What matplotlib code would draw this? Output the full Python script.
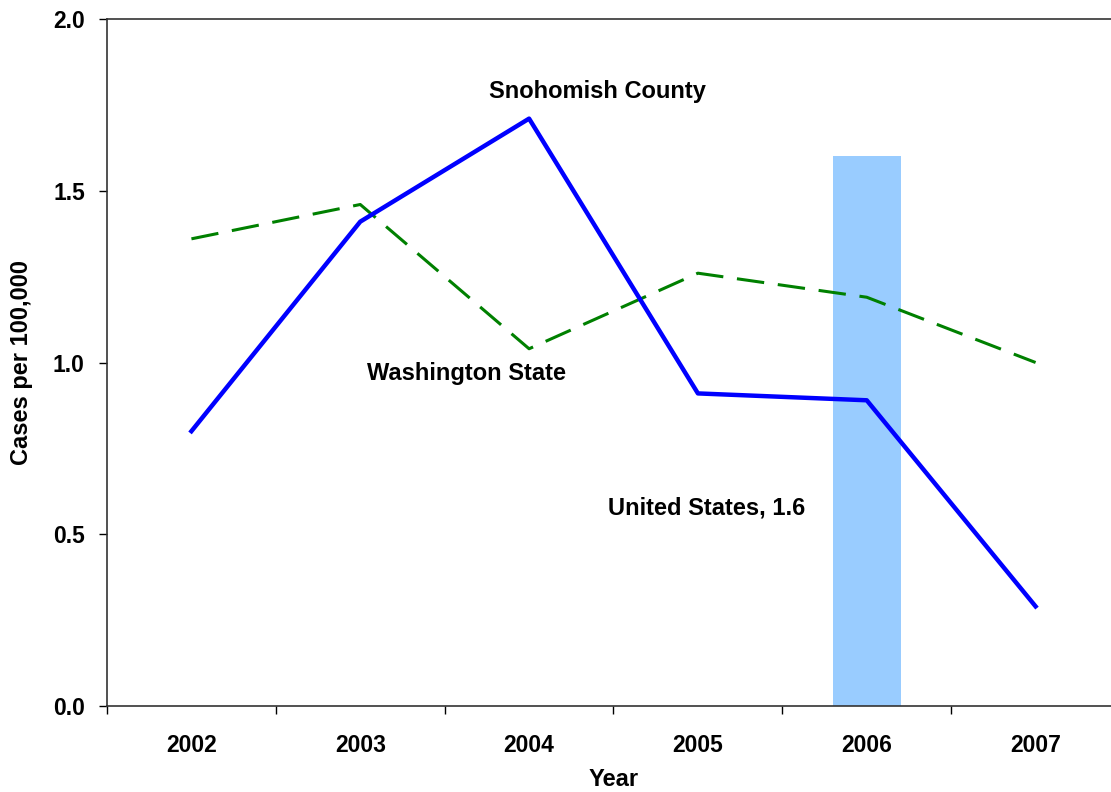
import matplotlib
matplotlib.use('Agg')
import matplotlib.pyplot as plt
import numpy as np

plt.rcParams['font.family'] = ['Liberation Sans', 'DejaVu Sans']

years = ['2002', '2003', '2004', '2005', '2006', '2007']
snohomish = [0.80, 1.41, 1.71, 0.91, 0.89, 0.29]
washington = [1.36, 1.46, 1.04, 1.26, 1.19, 1.00]
us_year = '2006'
us_rate = 1.6

x = np.arange(len(years))

fig = plt.figure(figsize=(11.11, 7.92), dpi=100)
ax = fig.add_axes([107/1111, 1 - 706/792, 1013/1111, 687/792])

ax.bar(years.index(us_year), us_rate, width=0.4, color='#99CCFF', zorder=1)
ax.plot(x, washington, color='#008000', lw=2.2, dashes=(9, 4.5), zorder=2)
ax.plot(x, snohomish, color='#0000FF', lw=3.2, zorder=3)

ax.set_xlim(-0.5, len(years) - 0.5)
ax.set_ylim(0, 2.0)
ax.set_yticks([0, 0.5, 1.0, 1.5, 2.0])
ax.set_yticklabels(['0.0', '0.5', '1.0', '1.5', '2.0'], fontsize=16.5, fontweight='bold')
ax.set_xticks(x)
ax.set_xticklabels(years, fontsize=16.5, fontweight='bold')
ax.set_xticks(np.arange(-0.5, len(years)), minor=True)
ax.tick_params(axis='x', which='major', length=0, pad=20)
ax.tick_params(axis='x', which='minor', length=6, width=1, direction='out')
ax.tick_params(axis='y', length=6, width=1, direction='out', pad=10)
for s in ax.spines.values():
    s.set_linewidth(1.2)
    s.set_color('#333333')

ax.set_xlabel('Year', fontsize=17, fontweight='bold', labelpad=8)
ax.set_ylabel('Cases per 100,000', fontsize=17, fontweight='bold', labelpad=14)

ax.text(2.405, 1.788, 'Snohomish County', fontsize=17, fontweight='bold', ha='center', va='center')
ax.text(1.627, 0.968, 'Washington State', fontsize=17, fontweight='bold', ha='center', va='center')
ax.text(3.054, 0.576, 'United States, 1.6', fontsize=17, fontweight='bold', ha='center', va='center')

fig.savefig('out.png', dpi=100)
